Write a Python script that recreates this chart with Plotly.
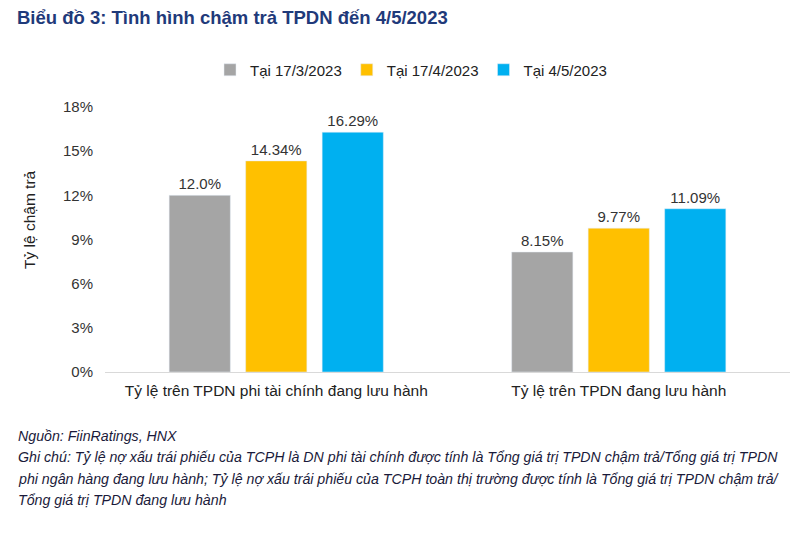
import plotly.graph_objects as go

categories = ["Tỷ lệ trên TPDN phi tài chính đang lưu hành", "Tỷ lệ trên TPDN đang lưu hành"]
series_names = ["Tại 17/3/2023", "Tại 17/4/2023", "Tại 4/5/2023"]
values_17_3 = [12.0, 8.15]
values_17_4 = [14.34, 9.77]
values_4_5 = [16.29, 11.09]
labels_17_3 = ["12.0%", "8.15%"]
labels_17_4 = ["14.34%", "9.77%"]
labels_4_5 = ["16.29%", "11.09%"]
tick_vals = [0, 3, 6, 9, 12, 15, 18]
tick_text = ["0%", "3%", "6%", "9%", "12%", "15%", "18%"]
colors = ["#A5A5A5", "#FFC000", "#00B0F0"]

FONT = "Liberation Sans, Arial, sans-serif"
W, H = 800, 538
OFF = 8  # page body margin
L, R, T, B = 97, 18, 99, 174
PW = W - L - R
PH = H - T - B


def px(xp):
    return (xp - OFF - L) / PW


def py(yp):
    return (H - B - (yp - OFF)) / PH


fig = go.Figure()
for name, vals, labs, col in zip(series_names, [values_17_3, values_17_4, values_4_5],
                                 [labels_17_3, labels_17_4, labels_4_5], colors):
    fig.add_trace(go.Bar(
        x=categories, y=vals, name=name, marker_color=col,
        text=labs, textposition="outside", cliponaxis=False,
        textfont=dict(family=FONT, size=15, color="#333333"),
    ))

fig.update_layout(
    width=W, height=H,
    paper_bgcolor="white", plot_bgcolor="white",
    margin=dict(l=L, r=R, t=T, b=B),
    barmode="group", bargap=0.33, bargroupgap=0.2,
    font=dict(family=FONT, size=15, color="#222222"),
    showlegend=True,
    legend=dict(orientation="h", x=px(411), xanchor="center", y=py(70), yanchor="middle",
                font=dict(family=FONT, size=15, color="#222222"),
                itemwidth=30, traceorder="normal"),
    title=dict(text="<b>Biểu đồ 3: Tình hình chậm trả TPDN đến 4/5/2023</b>",
               x=(17 - OFF) / W, xanchor="left", y=1 - (18 - OFF) / H, yanchor="middle",
               font=dict(family=FONT, size=18.5, color="#1F3A7A")),
)
fig.update_xaxes(showline=True, linecolor="#D9D9D9", linewidth=1, ticks="",
                 ticklabelstandoff=4,
                 tickfont=dict(family=FONT, size=15.5, color="#222222"))
fig.update_yaxes(range=[0, 18], tickvals=tick_vals, ticktext=tick_text, showgrid=False,
                 zeroline=False, showline=False, ticks="", ticklen=0,
                 ticklabelstandoff=11,
                 tickfont=dict(family=FONT, size=15, color="#333333"))

fig.add_annotation(text="Tỷ lệ chậm trả", xref="paper", yref="paper",
                   x=px(29), y=py(220), xanchor="center", yanchor="middle",
                   textangle=-90, showarrow=False,
                   font=dict(family=FONT, size=15.5, color="#222222"))

notes = [
    (436, "Nguồn: FiinRatings, HNX"),
    (457, "Ghi chú: Tỷ lệ nợ xấu trái phiếu của TCPH là DN phi tài chính được tính là Tổng giá trị TPDN chậm trả/Tổng giá trị TPDN"),
    (479, "phi ngân hàng đang lưu hành; Tỷ lệ nợ xấu trái phiếu của TCPH toàn thị trường được tính là Tổng giá trị TPDN chậm trả/"),
    (500, "Tổng giá trị TPDN đang lưu hành"),
]
for ypix, t in notes:
    fig.add_annotation(text="<i>" + t + "</i>", xref="paper", yref="paper",
                       x=px(16), xanchor="left", y=py(ypix), yanchor="middle",
                       showarrow=False, font=dict(family=FONT, size=14.2, color="#1a1a3a"))

fig.write_html("out.html")
